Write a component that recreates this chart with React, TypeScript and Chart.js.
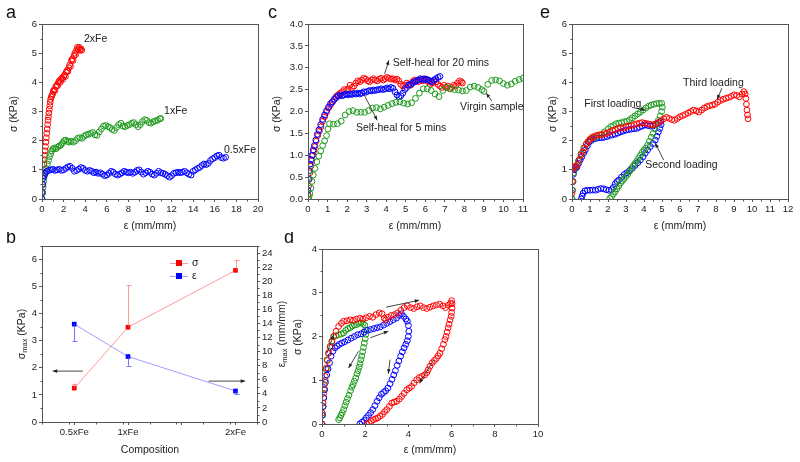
import React, { useEffect, useRef } from "react";
import { Chart, registerables } from "chart.js";
Chart.register(...registerables);

type P = [number, number];

// ---------- Panel a : stress-strain for Fe contents ----------
const A_2XFE: P[] = [[0,0.2],[0.04,0.5],[0.08,0.8],[0.12,1.0],[0.16,1.2],[0.2,1.35],[0.24,1.5],[0.28,1.65],[0.32,1.8],[0.36,1.95],[0.4,2.1],[0.44,2.25],[0.48,2.4],[0.52,2.55],[0.56,2.7],[0.6,2.82],[0.64,2.95],[0.68,3.08],[0.72,3.2],[0.76,3.32],[0.8,3.42],[0.86,3.5],[0.92,3.55],[0.98,3.6],[1.05,3.7],[1.12,3.75],[1.2,3.72],[1.28,3.85],[1.36,3.9],[1.44,3.88],[1.52,4.0],[1.6,4.05],[1.68,4.0],[1.76,4.1],[1.84,4.15],[1.92,4.1],[2.0,4.2],[2.08,4.25],[2.16,4.2],[2.24,4.35],[2.32,4.4],[2.4,4.38],[2.48,4.5],[2.56,4.6],[2.64,4.55],[2.72,4.75],[2.8,4.8],[2.88,4.75],[2.96,4.9],[3.04,5.0],[3.12,4.95],[3.2,5.1],[3.28,5.2],[3.36,5.15],[3.44,5.2],[3.52,5.1],[3.6,5.15],[3.68,5.1]];
const A_1XFE: P[] = [[0,0],[0.05,0.2],[0.1,0.4],[0.15,0.6],[0.2,0.75],[0.3,0.9],[0.4,1.05],[0.5,1.2],[0.6,1.32],[0.7,1.45],[0.8,1.55],[0.9,1.65],[1.0,1.72],[1.15,1.75],[1.3,1.72],[1.45,1.78],[1.6,1.82],[1.75,1.85],[1.9,1.92],[2.05,2.0],[2.2,2.02],[2.35,1.98],[2.5,1.95],[2.7,1.98],[2.9,1.95],[3.1,2.0],[3.3,2.08],[3.5,2.1],[3.7,2.08],[3.9,2.15],[4.1,2.2],[4.3,2.22],[4.5,2.25],[4.7,2.28],[4.9,2.2],[5.1,2.18],[5.3,2.3],[5.5,2.4],[5.7,2.5],[5.9,2.52],[6.1,2.48],[6.3,2.45],[6.5,2.38],[6.7,2.35],[6.9,2.45],[7.1,2.55],[7.3,2.6],[7.5,2.5],[7.7,2.48],[7.9,2.52],[8.1,2.55],[8.3,2.6],[8.5,2.62],[8.7,2.55],[8.9,2.48],[9.1,2.55],[9.3,2.65],[9.5,2.72],[9.7,2.7],[9.9,2.62],[10.1,2.6],[10.3,2.65],[10.5,2.68],[10.7,2.7],[10.9,2.75],[11.0,2.76]];
const A_05XFE: P[] = [[0,0],[0.04,0.25],[0.08,0.5],[0.12,0.7],[0.2,0.8],[0.3,0.88],[0.45,0.95],[0.6,0.98],[0.8,1.0],[1.0,1.02],[1.2,0.98],[1.4,1.0],[1.6,1.02],[1.8,0.98],[2.0,1.0],[2.2,1.05],[2.4,1.1],[2.6,1.12],[2.8,1.05],[3.0,0.95],[3.2,0.98],[3.4,1.02],[3.6,1.08],[3.8,1.05],[4.0,0.98],[4.2,0.95],[4.4,0.98],[4.6,0.95],[4.8,0.9],[5.0,0.92],[5.2,0.88],[5.4,0.9],[5.6,0.85],[5.8,0.8],[6.0,0.82],[6.2,0.88],[6.4,0.95],[6.6,0.92],[6.8,0.85],[7.0,0.82],[7.2,0.85],[7.4,0.9],[7.6,0.95],[7.8,0.92],[8.0,0.9],[8.2,0.92],[8.4,0.88],[8.6,0.92],[8.8,0.98],[9.0,1.0],[9.2,0.92],[9.4,0.85],[9.6,0.9],[9.8,0.95],[10.0,0.92],[10.2,0.85],[10.4,0.82],[10.6,0.88],[10.8,0.95],[11.0,0.9],[11.2,0.88],[11.4,0.85],[11.6,0.8],[11.8,0.75],[12.0,0.8],[12.2,0.88],[12.4,0.9],[12.6,0.92],[12.8,0.9],[13.0,0.92],[13.2,0.95],[13.4,0.9],[13.6,0.85],[13.8,0.82],[14.0,0.95],[14.2,1.0],[14.4,1.05],[14.6,1.08],[14.8,1.15],[15.0,1.2],[15.2,1.18],[15.4,1.22],[15.6,1.32],[15.8,1.38],[16.0,1.42],[16.2,1.48],[16.4,1.5],[16.6,1.42],[16.8,1.4],[17.0,1.43]];

// ---------- Panel b : maximum stress / strain vs composition ----------
const COMPOSITIONS = ["0.5xFe", "1xFe", "2xFe"];
const COMP_X = [0.5, 1, 2];
const SIGMA_MAX = [1.25, 3.5, 5.6];
const SIGMA_ERR_UP = [0.17, 1.55, 0.38];
const EPS_MAX = [13.9, 9.3, 4.4];
const EPS_ERR_DOWN = [2.4, 1.3, 0.4];

// ---------- Panel c : self-healing ----------
const C_20MIN: P[] = [[0,0.1],[0.03,0.3],[0.06,0.45],[0.1,0.6],[0.15,0.75],[0.2,0.88],[0.25,1.0],[0.3,1.1],[0.36,1.2],[0.42,1.32],[0.5,1.45],[0.58,1.55],[0.66,1.65],[0.75,1.78],[0.85,1.88],[0.95,1.98],[1.05,2.08],[1.15,2.15],[1.25,2.22],[1.35,2.28],[1.45,2.35],[1.55,2.38],[1.65,2.42],[1.75,2.45],[1.85,2.5],[1.95,2.48],[2.05,2.52],[2.15,2.6],[2.25,2.55],[2.35,2.58],[2.45,2.65],[2.55,2.7],[2.65,2.68],[2.75,2.72],[2.85,2.76],[2.95,2.74],[3.05,2.7],[3.15,2.68],[3.25,2.72],[3.35,2.75],[3.45,2.72],[3.55,2.7],[3.65,2.74],[3.75,2.76],[3.85,2.72],[3.95,2.75],[4.05,2.78],[4.15,2.76],[4.25,2.74],[4.35,2.75],[4.45,2.72],[4.55,2.74],[4.65,2.7],[4.75,2.62],[4.85,2.58],[4.95,2.6],[5.05,2.65],[5.15,2.62],[5.25,2.6],[5.35,2.68],[5.45,2.72],[5.55,2.7],[5.65,2.68],[5.75,2.72],[5.85,2.7],[5.95,2.75],[6.05,2.72],[6.15,2.68],[6.25,2.62],[6.35,2.65],[6.45,2.7],[6.55,2.68],[6.65,2.62],[6.75,2.58],[6.85,2.55],[6.95,2.6],[7.05,2.55],[7.15,2.58],[7.25,2.52],[7.35,2.55],[7.45,2.6],[7.55,2.58],[7.65,2.65],[7.75,2.7],[7.85,2.68],[7.9,2.65]];
const C_5MIN: P[] = [[0,0.2],[0.03,0.45],[0.06,0.65],[0.1,0.8],[0.15,0.9],[0.2,1.0],[0.26,1.12],[0.32,1.22],[0.4,1.35],[0.48,1.48],[0.56,1.58],[0.65,1.7],[0.75,1.82],[0.85,1.92],[0.95,2.02],[1.05,2.1],[1.15,2.18],[1.25,2.22],[1.35,2.28],[1.45,2.32],[1.55,2.35],[1.65,2.38],[1.75,2.36],[1.85,2.38],[1.95,2.4],[2.05,2.38],[2.15,2.4],[2.25,2.39],[2.35,2.41],[2.45,2.4],[2.55,2.42],[2.65,2.4],[2.75,2.42],[2.85,2.45],[2.95,2.44],[3.05,2.46],[3.15,2.48],[3.25,2.47],[3.35,2.49],[3.45,2.48],[3.55,2.5],[3.65,2.5],[3.75,2.52],[3.85,2.5],[3.95,2.52],[4.05,2.54],[4.15,2.52],[4.25,2.55],[4.35,2.53],[4.45,2.45],[4.55,2.38],[4.65,2.34],[4.75,2.36],[4.85,2.42],[4.95,2.5],[5.05,2.55],[5.15,2.6],[5.25,2.62],[5.35,2.65],[5.45,2.68],[5.55,2.7],[5.65,2.72],[5.75,2.75],[5.85,2.74],[5.95,2.72],[6.05,2.74],[6.15,2.72],[6.25,2.7],[6.35,2.68],[6.45,2.72],[6.55,2.75],[6.65,2.78],[6.75,2.8]];
const C_VIRGIN: P[] = [[0,0],[0.05,0.05],[0.1,0.12],[0.15,0.25],[0.2,0.4],[0.27,0.55],[0.35,0.7],[0.45,0.85],[0.55,0.98],[0.65,1.1],[0.75,1.22],[0.85,1.33],[0.95,1.45],[1.02,1.6],[1.1,1.72],[1.3,1.71],[1.5,1.72],[1.7,1.78],[1.9,1.92],[2.1,2.0],[2.3,2.02],[2.5,1.98],[2.7,1.98],[2.9,1.98],[3.1,2.02],[3.3,2.08],[3.5,2.09],[3.7,2.06],[3.9,2.1],[4.1,2.14],[4.3,2.18],[4.5,2.21],[4.7,2.22],[4.9,2.19],[5.1,2.17],[5.3,2.2],[5.5,2.3],[5.7,2.42],[5.9,2.52],[6.1,2.52],[6.3,2.48],[6.5,2.4],[6.7,2.34],[6.9,2.48],[7.1,2.55],[7.3,2.52],[7.5,2.5],[7.7,2.49],[7.9,2.47],[8.1,2.48],[8.3,2.56],[8.5,2.58],[8.7,2.55],[8.9,2.5],[9.0,2.46],[9.2,2.62],[9.4,2.71],[9.6,2.72],[9.8,2.7],[10.0,2.64],[10.2,2.6],[10.4,2.63],[10.6,2.69],[10.8,2.73],[11.0,2.76]];

// ---------- Panel d : cyclic loading to 2, 4, 6 mm/mm ----------
const D_CYCLE2: P[] = [[0,0],[0.02,0.2],[0.05,0.4],[0.08,0.6],[0.11,0.8],[0.15,1.0],[0.19,1.25],[0.23,1.47],[0.3,1.62],[0.38,1.78],[0.46,1.9],[0.54,2.0],[0.65,2.02],[0.77,2.04],[0.9,2.06],[1.0,2.08],[1.1,2.14],[1.2,2.18],[1.3,2.2],[1.4,2.24],[1.5,2.26],[1.6,2.27],[1.7,2.3],[1.8,2.31],[1.9,2.3],[1.98,2.26],[2.02,2.15],[2.03,2.05],[2.0,1.95],[1.96,1.85],[1.92,1.75],[1.88,1.65],[1.84,1.55],[1.8,1.47],[1.76,1.38],[1.72,1.3],[1.67,1.22],[1.62,1.15],[1.56,1.05],[1.5,0.98],[1.44,0.9],[1.38,0.84],[1.32,0.76],[1.25,0.66],[1.18,0.58],[1.12,0.5],[1.06,0.42],[1.0,0.33],[0.94,0.26],[0.88,0.2],[0.82,0.14],[0.77,0.1]];
const D_CYCLE4: P[] = [[0,0],[0.02,0.2],[0.05,0.4],[0.08,0.6],[0.12,0.78],[0.16,0.95],[0.22,1.12],[0.28,1.26],[0.35,1.4],[0.42,1.55],[0.5,1.66],[0.6,1.74],[0.7,1.78],[0.8,1.82],[0.92,1.85],[1.05,1.88],[1.2,1.92],[1.35,1.96],[1.5,2.0],[1.65,2.04],[1.8,2.06],[1.95,2.1],[2.1,2.14],[2.25,2.16],[2.4,2.18],[2.55,2.2],[2.7,2.22],[2.85,2.26],[3.0,2.3],[3.15,2.34],[3.3,2.38],[3.45,2.42],[3.58,2.48],[3.68,2.52],[3.78,2.46],[3.88,2.4],[3.95,2.35],[4.0,2.25],[4.02,2.12],[4.0,2.0],[3.95,1.9],[3.88,1.82],[3.8,1.74],[3.72,1.65],[3.64,1.55],[3.56,1.44],[3.48,1.34],[3.4,1.22],[3.32,1.12],[3.24,1.02],[3.15,0.92],[3.05,0.82],[2.95,0.76],[2.85,0.72],[2.75,0.68],[2.65,0.6],[2.55,0.52],[2.45,0.42],[2.35,0.33],[2.25,0.26],[2.15,0.2],[2.05,0.14],[1.95,0.08],[1.85,0.04],[1.75,0.0]];
const D_CYCLE6: P[] = [[0,0],[0.02,0.25],[0.05,0.48],[0.08,0.7],[0.11,0.9],[0.15,1.09],[0.2,1.28],[0.25,1.45],[0.31,1.62],[0.38,1.75],[0.46,1.88],[0.54,2.0],[0.65,2.12],[0.77,2.23],[0.9,2.3],[1.0,2.35],[1.15,2.36],[1.3,2.38],[1.45,2.37],[1.6,2.4],[1.75,2.42],[1.9,2.4],[2.05,2.43],[2.2,2.46],[2.35,2.44],[2.5,2.5],[2.65,2.54],[2.78,2.52],[2.88,2.42],[2.95,2.38],[3.05,2.44],[3.2,2.48],[3.35,2.5],[3.5,2.54],[3.65,2.6],[3.8,2.66],[3.95,2.7],[4.1,2.66],[4.25,2.64],[4.4,2.68],[4.55,2.7],[4.7,2.66],[4.85,2.64],[5.0,2.67],[5.15,2.7],[5.3,2.72],[5.45,2.74],[5.6,2.7],[5.72,2.66],[5.85,2.72],[5.95,2.76],[6.0,2.82],[6.02,2.75],[6.02,2.65],[6.0,2.55],[5.98,2.46],[5.93,2.38],[5.88,2.28],[5.84,2.2],[5.79,2.1],[5.74,2.0],[5.69,1.93],[5.62,1.82],[5.54,1.72],[5.46,1.62],[5.38,1.56],[5.3,1.5],[5.2,1.45],[5.1,1.4],[5.0,1.32],[4.92,1.24],[4.85,1.17],[4.75,1.12],[4.62,1.09],[4.5,1.06],[4.38,1.01],[4.26,0.94],[4.15,0.86],[4.04,0.82],[3.92,0.78],[3.8,0.7],[3.69,0.63],[3.58,0.57],[3.46,0.52],[3.34,0.5],[3.23,0.48],[3.12,0.4],[3.0,0.33],[2.9,0.28],[2.8,0.22],[2.69,0.18],[2.58,0.14],[2.48,0.12],[2.38,0.1],[2.28,0.06],[2.18,0.03],[2.08,0.0]];

// ---------- Panel e : successive loadings ----------
const E_FIRST: P[] = [[0,0],[0.03,0.3],[0.06,0.6],[0.1,0.9],[0.2,1.1],[0.35,1.3],[0.5,1.55],[0.65,1.75],[0.8,1.9],[1.0,2.02],[1.2,2.1],[1.4,2.15],[1.6,2.2],[1.8,2.3],[2.0,2.4],[2.15,2.48],[2.3,2.52],[2.45,2.58],[2.6,2.6],[2.75,2.62],[2.9,2.65],[3.05,2.66],[3.2,2.72],[3.35,2.78],[3.5,2.85],[3.65,2.92],[3.8,2.98],[3.95,3.05],[4.1,3.12],[4.25,3.18],[4.4,3.22],[4.55,3.25],[4.7,3.27],[4.85,3.28],[4.98,3.28],[5.02,3.15],[4.98,3.0],[4.9,2.85],[4.8,2.7],[4.7,2.55],[4.6,2.4],[4.5,2.25],[4.4,2.12],[4.3,1.98],[4.2,1.85],[4.1,1.75],[4.0,1.68],[3.9,1.6],[3.8,1.5],[3.7,1.4],[3.6,1.3],[3.5,1.22],[3.4,1.14],[3.3,1.05],[3.2,0.95],[3.1,0.85],[3.0,0.78],[2.9,0.7],[2.8,0.62],[2.7,0.55],[2.6,0.45],[2.5,0.35],[2.4,0.26],[2.3,0.17],[2.2,0.08],[2.1,0.02]];
const E_SECOND: P[] = [[0,0],[0.02,0.3],[0.05,0.6],[0.08,0.85],[0.12,1.0],[0.2,1.05],[0.28,1.1],[0.37,1.22],[0.46,1.34],[0.55,1.45],[0.65,1.58],[0.74,1.68],[0.85,1.82],[0.95,1.95],[1.05,2.0],[1.2,2.05],[1.35,2.08],[1.5,2.1],[1.65,2.1],[1.8,2.12],[1.95,2.14],[2.1,2.18],[2.25,2.2],[2.4,2.22],[2.55,2.26],[2.7,2.3],[2.85,2.33],[3.0,2.36],[3.15,2.38],[3.3,2.4],[3.45,2.41],[3.6,2.42],[3.75,2.46],[3.9,2.5],[4.05,2.54],[4.2,2.52],[4.35,2.5],[4.5,2.5],[4.65,2.56],[4.8,2.62],[4.92,2.65],[4.95,2.55],[4.88,2.42],[4.8,2.3],[4.72,2.15],[4.63,2.02],[4.5,1.9],[4.35,1.8],[4.2,1.68],[4.07,1.57],[3.95,1.45],[3.8,1.34],[3.65,1.24],[3.5,1.15],[3.35,1.05],[3.2,0.98],[3.05,0.9],[2.9,0.84],[2.75,0.75],[2.6,0.65],[2.5,0.6],[2.4,0.52],[2.3,0.4],[2.2,0.32],[2.05,0.3],[1.9,0.32],[1.75,0.35],[1.6,0.36],[1.45,0.33],[1.3,0.3],[1.15,0.31],[1.0,0.3],[0.85,0.3],[0.72,0.28],[0.62,0.2],[0.56,0.1],[0.52,0.0]];
const E_THIRD: P[] = [[0,0.2],[0.02,0.6],[0.05,1.0],[0.1,1.1],[0.2,1.12],[0.3,1.18],[0.4,1.35],[0.5,1.5],[0.6,1.62],[0.7,1.75],[0.8,1.88],[0.9,1.98],[1.0,2.05],[1.1,2.1],[1.2,2.14],[1.35,2.18],[1.5,2.2],[1.65,2.2],[1.8,2.24],[1.95,2.25],[2.1,2.3],[2.25,2.35],[2.4,2.38],[2.55,2.42],[2.7,2.45],[2.85,2.42],[3.0,2.48],[3.15,2.5],[3.3,2.52],[3.45,2.55],[3.6,2.58],[3.75,2.6],[3.9,2.62],[4.05,2.6],[4.2,2.58],[4.35,2.56],[4.5,2.54],[4.65,2.58],[4.8,2.62],[4.95,2.68],[5.1,2.75],[5.25,2.8],[5.4,2.76],[5.55,2.72],[5.7,2.7],[5.85,2.76],[6.0,2.82],[6.15,2.86],[6.3,2.9],[6.45,2.95],[6.6,3.0],[6.75,3.05],[6.9,3.02],[7.05,2.98],[7.2,3.05],[7.35,3.12],[7.5,3.17],[7.65,3.2],[7.8,3.22],[7.95,3.25],[8.1,3.32],[8.25,3.38],[8.4,3.42],[8.55,3.45],[8.7,3.48],[8.85,3.52],[9.0,3.57],[9.15,3.55],[9.3,3.5],[9.45,3.6],[9.55,3.68],[9.62,3.6],[9.66,3.45],[9.69,3.25],[9.72,3.05],[9.75,2.88],[9.78,2.75]];

// ---------- tick values ----------
const A_XTICKS = [0, 2, 4, 6, 8, 10, 12, 14, 16, 18, 20];
const A_YTICKS = [0, 1, 2, 3, 4, 5, 6];
const B_YTICKS = [0, 1, 2, 3, 4, 5, 6];
const B_Y2TICKS = [0, 2, 4, 6, 8, 10, 12, 14, 16, 18, 20, 22, 24];
const B_XTICKS = [0.5, 1, 1.5, 2];
const C_XTICKS = [0, 1, 2, 3, 4, 5, 6, 7, 8, 9, 10, 11];
const C_YTICKS = [0, 0.5, 1, 1.5, 2, 2.5, 3, 3.5, 4];
const D_XTICKS = [0, 2, 4, 6, 8, 10];
const D_YTICKS = [0, 1, 2, 3, 4];
const E_XTICKS = [0, 1, 2, 3, 4, 5, 6, 7, 8, 9, 10, 11, 12];
const E_YTICKS = [0, 1, 2, 3, 4, 5, 6];

// ---------- styling ----------
const FONT = '"Liberation Sans", Arial, Helvetica, sans-serif';
const RED = "#ff0000";
const GREEN = "#1c991c";
const BLUE = "#0000ff";
const AXIS = "#555555";
const TEXT = "#222222";

type Part = { t: string; sub?: boolean };
type Title = { parts: Part[]; x: number; y: number; rot?: boolean };
type Txt = { text: string; x: number; y: number };
type Arw = [number, number, number, number];
type AxisSpec = { min: number; max: number; ticks: number[]; minor?: number; fmt?: (v: number) => string };

interface PanelSpec {
  box: { left: number; top: number; width: number; height: number };
  pad: { left: number; top: number; right: number; bottom: number };
  yWidth: number;
  y2Width?: number;
  xHeight: number;
  x: AxisSpec;
  y: AxisSpec;
  y2?: AxisSpec;
  datasets: any[];
  letter: { t: string; x: number; y: number };
  titles: Title[];
  texts: Txt[];
  arrows: Arw[];
  extra?: (chart: any) => void;
}

function circles(label: string, pts: P[], color: string) {
  return {
    label,
    data: pts.map(([x, y]) => ({ x, y })),
    showLine: false,
    pointStyle: "circle",
    pointRadius: 2.9,
    pointBorderWidth: 1,
    pointBorderColor: color,
    pointBackgroundColor: "rgba(0,0,0,0)",
    borderColor: color,
    pointHoverRadius: 0,
  };
}

function drawArrow(ctx: CanvasRenderingContext2D, x1: number, y1: number, x2: number, y2: number) {
  ctx.beginPath();
  ctx.moveTo(x1, y1);
  ctx.lineTo(x2, y2);
  ctx.stroke();
  const a = Math.atan2(y2 - y1, x2 - x1);
  const L = 4.5, W = 1.8;
  ctx.beginPath();
  ctx.moveTo(x2, y2);
  ctx.lineTo(x2 - L * Math.cos(a) + W * Math.sin(a), y2 - L * Math.sin(a) - W * Math.cos(a));
  ctx.lineTo(x2 - L * Math.cos(a) - W * Math.sin(a), y2 - L * Math.sin(a) + W * Math.cos(a));
  ctx.closePath();
  ctx.fill();
}

function drawTitle(ctx: CanvasRenderingContext2D, t: Title, ox: number, oy: number) {
  const main = `10.5px ${FONT}`;
  const small = `7.5px ${FONT}`;
  let w = 0;
  for (const p of t.parts) {
    ctx.font = p.sub ? small : main;
    w += ctx.measureText(p.t).width;
  }
  ctx.save();
  ctx.translate(t.x - ox, t.y - oy);
  if (t.rot) ctx.rotate(-Math.PI / 2);
  ctx.textBaseline = "middle";
  ctx.textAlign = "left";
  let cx = -w / 2;
  for (const p of t.parts) {
    ctx.font = p.sub ? small : main;
    ctx.fillText(p.t, cx, p.sub ? 3 : 0);
    cx += ctx.measureText(p.t).width;
  }
  ctx.restore();
}

function near(list: number[], v: number) {
  return list.some((t) => Math.abs(t - v) < 1e-6);
}

function makeAxis(spec: AxisSpec, position: string, size: number, horizontal: boolean) {
  return {
    type: "linear",
    position,
    min: spec.min,
    max: spec.max,
    afterFit: (sc: any) => {
      if (horizontal) sc.height = size;
      else sc.width = size;
    },
    afterBuildTicks: (sc: any) => {
      sc.ticks = spec.ticks.map((v) => ({ value: v }));
    },
    ticks: {
      autoSkip: false,
      maxRotation: 0,
      padding: 2,
      color: TEXT,
      font: { family: FONT, size: 9.5 },
      callback: (v: number) => (spec.fmt ? spec.fmt(v) : String(v)),
    },
    grid: { display: true, drawOnChartArea: false, drawTicks: true, tickLength: 3, color: AXIS, tickColor: AXIS, lineWidth: 1 },
    border: { display: false },
  };
}

function buildConfig(s: PanelSpec): any {
  const scales: any = {
    x: makeAxis(s.x, "bottom", s.xHeight, true),
    y: makeAxis(s.y, "left", s.yWidth, false),
  };
  if (s.y2) scales.y2 = makeAxis(s.y2, "right", s.y2Width || 30, false);

  const deco = {
    id: "deco",
    afterDatasetsDraw(chart: any) {
      const ctx: CanvasRenderingContext2D = chart.ctx;
      const a = chart.chartArea;
      const xs = chart.scales.x;
      const ys = chart.scales.y;
      ctx.save();
      if (s.extra) s.extra(chart);
      ctx.strokeStyle = AXIS;
      ctx.lineWidth = 1;
      const L = Math.round(a.left) + 0.5, T = Math.round(a.top) + 0.5;
      const R = Math.round(a.right) + 0.5, B = Math.round(a.bottom) + 0.5;
      ctx.strokeRect(L, T, R - L, B - T);
      ctx.beginPath();
      const minorX = s.x.minor;
      if (minorX) {
        for (let v = s.x.min; v <= s.x.max + 1e-9; v += minorX) {
          if (near(s.x.ticks, v)) continue;
          const px = Math.round(xs.getPixelForValue(v)) + 0.5;
          ctx.moveTo(px, B);
          ctx.lineTo(px, B + 2);
        }
      }
      const minorY = s.y.minor;
      if (minorY) {
        for (let v = s.y.min; v <= s.y.max + 1e-9; v += minorY) {
          if (near(s.y.ticks, v)) continue;
          const py = Math.round(ys.getPixelForValue(v)) + 0.5;
          ctx.moveTo(L, py);
          ctx.lineTo(L - 2, py);
        }
      }
      if (s.y2 && s.y2.minor) {
        const y2 = chart.scales.y2;
        for (let v = s.y2.min; v <= s.y2.max + 1e-9; v += s.y2.minor) {
          if (near(s.y2.ticks, v)) continue;
          const py = Math.round(y2.getPixelForValue(v)) + 0.5;
          ctx.moveTo(R, py);
          ctx.lineTo(R + 2, py);
        }
      }
      ctx.stroke();
      ctx.fillStyle = TEXT;
      ctx.font = `10.5px ${FONT}`;
      ctx.textBaseline = "middle";
      ctx.textAlign = "left";
      for (const t of s.texts) ctx.fillText(t.text, xs.getPixelForValue(t.x), ys.getPixelForValue(t.y));
      ctx.strokeStyle = "#333333";
      ctx.fillStyle = "#222222";
      ctx.lineWidth = 0.9;
      for (const [x1, y1, x2, y2] of s.arrows) {
        drawArrow(ctx, xs.getPixelForValue(x1), ys.getPixelForValue(y1), xs.getPixelForValue(x2), ys.getPixelForValue(y2));
      }
      ctx.fillStyle = TEXT;
      for (const t of s.titles) drawTitle(ctx, t, s.box.left, s.box.top);
      ctx.font = `18px ${FONT}`;
      ctx.textBaseline = "alphabetic";
      ctx.textAlign = "left";
      ctx.fillStyle = "#111111";
      ctx.fillText(s.letter.t, s.letter.x - s.box.left, s.letter.y - s.box.top);
      ctx.restore();
    },
  };

  return {
    type: "scatter",
    data: { datasets: s.datasets },
    options: {
      animation: false,
      responsive: false,
      maintainAspectRatio: false,
      devicePixelRatio: 1,
      events: [],
      layout: { padding: s.pad },
      plugins: { legend: { display: false }, tooltip: { enabled: false }, title: { display: false } },
      scales,
    },
    plugins: [deco],
  };
}

// ---------- panel specs ----------
const specA: PanelSpec = {
  box: { left: 0, top: 0, width: 268, height: 232 },
  pad: { left: 0, top: 24, right: 10, bottom: 0 },
  yWidth: 42,
  xHeight: 33,
  x: { min: 0, max: 20, ticks: A_XTICKS, minor: 1 },
  y: { min: 0, max: 6, ticks: A_YTICKS, minor: 0.5 },
  datasets: [circles("0.5xFe", A_05XFE, BLUE), circles("1xFe", A_1XFE, GREEN), circles("2xFe", A_2XFE, RED)],
  letter: { t: "a", x: 6, y: 18 },
  titles: [
    { parts: [{ t: "ε (mm/mm)" }], x: 150, y: 226 },
    { parts: [{ t: "σ (KPa)" }], x: 14, y: 114, rot: true },
  ],
  texts: [
    { text: "2xFe", x: 3.89, y: 5.49 },
    { text: "1xFe", x: 11.3, y: 3.02 },
    { text: "0.5xFe", x: 16.85, y: 1.66 },
  ],
  arrows: [],
};

const specC: PanelSpec = {
  box: { left: 268, top: 0, width: 266, height: 232 },
  pad: { left: 0, top: 24, right: 11, bottom: 0 },
  yWidth: 40,
  xHeight: 33,
  x: { min: 0, max: 11, ticks: C_XTICKS, minor: 0.5 },
  y: { min: 0, max: 4, ticks: C_YTICKS, fmt: (v) => v.toFixed(1) },
  datasets: [circles("Virgin sample", C_VIRGIN, GREEN), circles("Self-heal for 5 mins", C_5MIN, BLUE), circles("Self-heal for 20 mins", C_20MIN, RED)],
  letter: { t: "c", x: 268, y: 18 },
  titles: [
    { parts: [{ t: "ε (mm/mm)" }], x: 415, y: 226 },
    { parts: [{ t: "σ (KPa)" }], x: 277, y: 114, rot: true },
  ],
  texts: [
    { text: "Self-heal for 20 mins", x: 4.34, y: 3.11 },
    { text: "Self-heal for 5 mins", x: 2.45, y: 1.62 },
    { text: "Virgin sample", x: 7.78, y: 2.1 },
  ],
  arrows: [
    [3.92, 2.86, 4.14, 3.17],
    [2.83, 2.42, 3.54, 1.8],
    [9.4, 2.24, 9.12, 2.42],
  ],
};

const specE: PanelSpec = {
  box: { left: 534, top: 0, width: 266, height: 232 },
  pad: { left: 0, top: 24, right: 12, bottom: 0 },
  yWidth: 38,
  xHeight: 33,
  x: { min: 0, max: 12, ticks: E_XTICKS, minor: 0.5 },
  y: { min: 0, max: 6, ticks: E_YTICKS, minor: 0.5 },
  datasets: [circles("Third loading", E_THIRD, RED), circles("First loading", E_FIRST, GREEN), circles("Second loading", E_SECOND, BLUE)],
  letter: { t: "e", x: 540, y: 18 },
  titles: [
    { parts: [{ t: "ε (mm/mm)" }], x: 680, y: 226 },
    { parts: [{ t: "σ (KPa)" }], x: 553, y: 114, rot: true },
  ],
  texts: [
    { text: "Third loading", x: 6.17, y: 3.99 },
    { text: "First loading", x: 0.68, y: 3.26 },
    { text: "Second loading", x: 4.07, y: 1.17 },
  ],
  arrows: [
    [8.33, 3.8, 8.06, 3.42],
    [3.33, 3.14, 4.07, 3.05],
    [5.09, 1.34, 4.63, 1.91],
  ],
};

const specD: PanelSpec = {
  box: { left: 282, top: 232, width: 270, height: 230 },
  pad: { left: 0, top: 17, right: 14, bottom: 0 },
  yWidth: 40,
  xHeight: 38,
  x: { min: 0, max: 10, ticks: D_XTICKS, minor: 1 },
  y: { min: 0, max: 4, ticks: D_YTICKS, minor: 0.5 },
  datasets: [circles("6 mm/mm", D_CYCLE6, RED), circles("4 mm/mm", D_CYCLE4, BLUE), circles("2 mm/mm", D_CYCLE2, GREEN)],
  letter: { t: "d", x: 284, y: 243 },
  titles: [
    { parts: [{ t: "ε (mm/mm)" }], x: 430, y: 450 },
    { parts: [{ t: "σ (KPa)" }], x: 298, y: 337, rot: true },
  ],
  texts: [],
  arrows: [
    [2.97, 2.67, 4.5, 2.83],
    [2.23, 1.97, 3.07, 2.12],
    [0.23, 1.62, 0.54, 2.04],
    [1.69, 1.66, 1.23, 1.28],
    [3.15, 1.47, 3.07, 1.15],
    [5.18, 1.47, 4.51, 0.93],
  ],
};

const specB: PanelSpec = {
  box: { left: 0, top: 232, width: 292, height: 230 },
  pad: { left: 0, top: 14, right: 2, bottom: 0 },
  yWidth: 42,
  y2Width: 33,
  xHeight: 40,
  x: {
    min: 0.2,
    max: 2.2,
    ticks: B_XTICKS,
    minor: 0.25,
    fmt: (v) => {
      const i = COMP_X.findIndex((c) => Math.abs(c - v) < 1e-6);
      return i >= 0 ? COMPOSITIONS[i] : "";
    },
  },
  y: { min: 0, max: 6.5, ticks: B_YTICKS, minor: 0.5 },
  y2: { min: 0, max: 25, ticks: B_Y2TICKS, minor: 1 },
  datasets: [
    {
      label: "σ",
      yAxisID: "y",
      data: COMP_X.map((x, i) => ({ x, y: SIGMA_MAX[i] })),
      showLine: true,
      borderColor: "rgba(255,70,70,0.55)",
      borderWidth: 1,
      pointStyle: "rect",
      pointRadius: 3.3,
      pointBorderWidth: 0,
      pointBackgroundColor: RED,
      pointBorderColor: RED,
      pointHoverRadius: 0,
    },
    {
      label: "ε",
      yAxisID: "y2",
      data: COMP_X.map((x, i) => ({ x, y: EPS_MAX[i] })),
      showLine: true,
      borderColor: "rgba(80,80,255,0.55)",
      borderWidth: 1,
      pointStyle: "rect",
      pointRadius: 3.3,
      pointBorderWidth: 0,
      pointBackgroundColor: BLUE,
      pointBorderColor: BLUE,
      pointHoverRadius: 0,
    },
  ],
  letter: { t: "b", x: 6, y: 243 },
  titles: [
    { parts: [{ t: "Composition" }], x: 150, y: 450 },
    { parts: [{ t: "σ" }, { t: "max", sub: true }, { t: " (KPa)" }], x: 22, y: 334, rot: true },
    { parts: [{ t: "ε" }, { t: "max", sub: true }, { t: " (mm/mm)" }], x: 282, y: 334, rot: true },
  ],
  texts: [],
  arrows: [
    [0.58, 1.88, 0.3, 1.88],
    [1.75, 1.51, 2.09, 1.51],
  ],
  extra: (chart: any) => {
    const ctx: CanvasRenderingContext2D = chart.ctx;
    const xs = chart.scales.x, ys = chart.scales.y, y2 = chart.scales.y2;
    ctx.lineWidth = 1;
    const bar = (x: number, v1: number, v2: number) => {
      ctx.beginPath();
      ctx.moveTo(x + 0.5, v1);
      ctx.lineTo(x + 0.5, v2);
      ctx.moveTo(x - 2 + 0.5, Math.round(v2) + 0.5);
      ctx.lineTo(x + 3 + 0.5, Math.round(v2) + 0.5);
      ctx.stroke();
    };
    ctx.strokeStyle = "rgba(255,90,90,0.6)";
    COMP_X.forEach((cx, i) => {
      const px = Math.round(xs.getPixelForValue(cx));
      bar(px, ys.getPixelForValue(SIGMA_MAX[i]), ys.getPixelForValue(SIGMA_MAX[i] + SIGMA_ERR_UP[i]));
    });
    ctx.strokeStyle = "rgba(70,70,255,0.75)";
    COMP_X.forEach((cx, i) => {
      const px = Math.round(xs.getPixelForValue(cx));
      bar(px, y2.getPixelForValue(EPS_MAX[i]), y2.getPixelForValue(EPS_MAX[i] - EPS_ERR_DOWN[i]));
    });
    const oy = 232;
    const items: [string, string, string, number][] = [
      ["σ", "rgba(255,70,70,0.55)", RED, 263],
      ["ε", "rgba(80,80,255,0.55)", BLUE, 276],
    ];
    for (const [lab, lc, mc, py] of items) {
      const y = py - oy + 0.5;
      ctx.strokeStyle = lc;
      ctx.beginPath();
      ctx.moveTo(170, y);
      ctx.lineTo(188, y);
      ctx.stroke();
      ctx.fillStyle = mc;
      ctx.fillRect(176, y - 3.5, 6, 6);
      ctx.fillStyle = TEXT;
      ctx.font = `10.5px ${FONT}`;
      ctx.textBaseline = "middle";
      ctx.textAlign = "left";
      ctx.fillText(lab, 192, y);
    }
  },
};

const SPECS = [specA, specC, specE, specB, specD];

function Panel({ spec }: { spec: PanelSpec }) {
  const ref = useRef<HTMLCanvasElement>(null);
  useEffect(() => {
    const chart = new Chart(ref.current as HTMLCanvasElement, buildConfig(spec));
    return () => chart.destroy();
  }, [spec]);
  return (
    <canvas
      ref={ref}
      width={spec.box.width}
      height={spec.box.height}
      style={{ position: "absolute", left: spec.box.left, top: spec.box.top, width: spec.box.width, height: spec.box.height }}
    />
  );
}

export default function App() {
  return (
    <div style={{ position: "absolute", left: 0, top: 0, width: 800, height: 462, background: "#ffffff", overflow: "hidden" }}>
      {SPECS.map((s, i) => (
        <Panel key={i} spec={s} />
      ))}
    </div>
  );
}
